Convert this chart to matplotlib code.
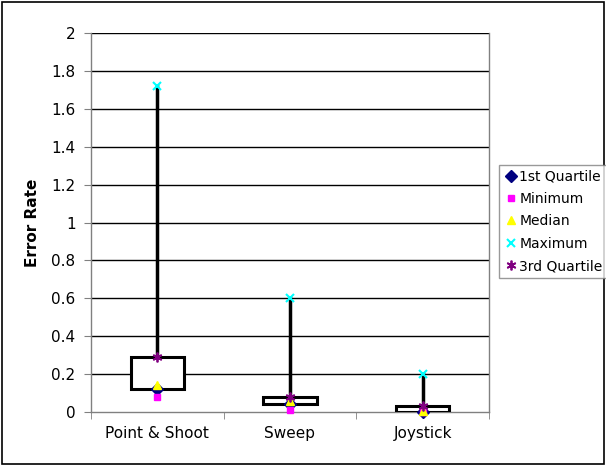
import matplotlib
matplotlib.use("Agg")
import matplotlib.pyplot as plt
from matplotlib.patches import Rectangle
import numpy as np

categories = ["Point & Shoot", "Sweep", "Joystick"]
q1 = [0.12, 0.04, 0.0]
minimum = [0.08, 0.01, 0.0]
median = [0.14, 0.06, 0.005]
maximum = [1.72, 0.60, 0.20]
q3 = [0.29, 0.08, 0.03]
yticks = [0, 0.2, 0.4, 0.6, 0.8, 1, 1.2, 1.4, 1.6, 1.8, 2]
ytick_labels = ["0", "0.2", "0.4", "0.6", "0.8", "1", "1.2", "1.4", "1.6", "1.8", "2"]

plt.rcParams['font.family'] = ['DejaVu Sans']
fig = plt.figure(figsize=(6.06, 4.66), dpi=100)
fig.patch.set_facecolor("white")
fig.patches.append(Rectangle((0.004, 0.004), 0.992, 0.992, transform=fig.transFigure,
                             fill=False, edgecolor="black", linewidth=1.2))
ax = fig.add_axes([0.150, 0.1159, 0.657, 0.813])

x = np.arange(len(categories))
ax.set_xlim(-0.5, len(categories) - 0.5)
ax.set_ylim(0, 2)

for yt in yticks[1:]:
    ax.axhline(yt, color="black", linewidth=1.0, zorder=0)

bw = 0.4
for i in range(len(categories)):
    ax.plot([x[i], x[i]], [minimum[i], maximum[i]], color="black", linewidth=2.5, zorder=2)
    ax.add_patch(Rectangle((x[i] - bw / 2, q1[i]), bw, q3[i] - q1[i], facecolor="white",
                           edgecolor="black", linewidth=2.2, zorder=3))

kw = dict(linestyle="none", clip_on=False)
ax.plot(x, q1, marker="D", color="#000080", markersize=6, label="1st Quartile", zorder=4, **kw)
ax.plot(x, minimum, marker="s", color="#FF00FF", markersize=5, label="Minimum", zorder=4, **kw)
ax.plot(x, median, marker="^", color="#FFFF00", markersize=6, label="Median", zorder=4, **kw)
ax.plot(x, maximum, marker="x", color="#00FFFF", markersize=5.5, markeredgewidth=1.5, label="Maximum", zorder=4, **kw)
ax.plot(x, q3, marker=(6, 2, 0), color="#800080", markersize=7, markeredgewidth=1.3, label="3rd Quartile", zorder=5, **kw)

ax.set_yticks(yticks)
ax.set_yticklabels(ytick_labels, fontsize=11)
ax.set_xticks(x)
ax.set_xticklabels(categories, fontsize=11)
ax.tick_params(axis="x", length=0, pad=10)
ax.set_xticks([-0.5, 0.5, 1.5, 2.5], minor=True)
ax.tick_params(axis="x", which="minor", length=5, color="#808080", direction="out")
ax.tick_params(axis="y", length=5, color="#808080", direction="out", pad=6)

for s in ["left", "bottom", "right", "top"]:
    ax.spines[s].set_color("#808080")
    ax.spines[s].set_linewidth(1.0)
ax.spines["top"].set_visible(False)

ax.set_ylabel("Error Rate", fontsize=11, fontweight="bold", labelpad=8)

leg = fig.legend(loc="center left", bbox_to_anchor=(0.824, 0.525), fontsize=10,
                 frameon=True, fancybox=False, edgecolor="#808080", borderpad=0.35,
                 handletextpad=0.1, handlelength=1.0, labelspacing=0.6, borderaxespad=0)
leg.get_frame().set_linewidth(1.0)

fig.savefig("out.png", dpi=100)
